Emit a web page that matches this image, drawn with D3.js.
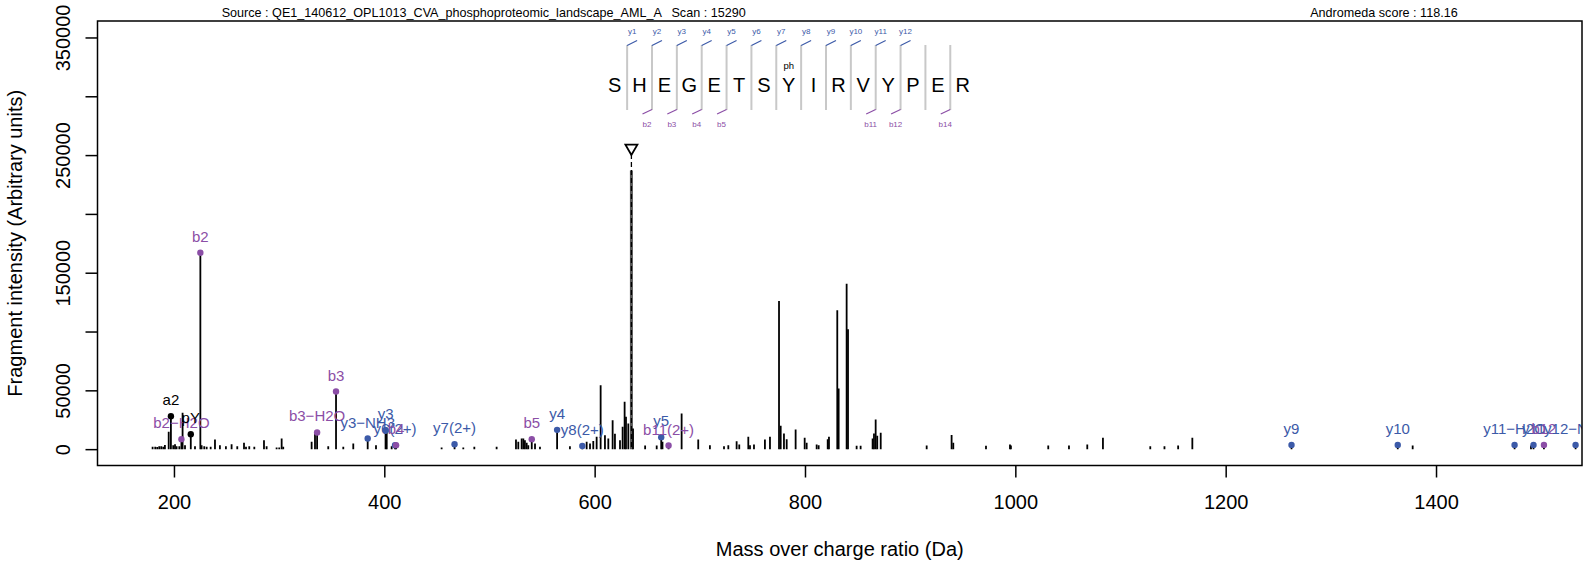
<!DOCTYPE html>
<html>
<head>
<meta charset="utf-8">
<script src="https://cdn.jsdelivr.net/npm/d3@7"></script>
<style>
  html, body { margin: 0; padding: 0; background: #fff; }
  svg { display: block; font-family: "Liberation Sans", Arial, Helvetica, sans-serif; }
</style>
</head>
<body>
<svg id="chart" width="1596" height="567"></svg>
<script>
// ---------------- data ----------------
const peakMz = [179.7,182.2,184.1,186.0,187.9,189.8,191.4,195.0,197.1,199.3,201.0,202.5,205.1,207.1,208.2,210.5,216.0,220.0,
  225.1,226.3,228.8,231.1,234.9,239.0,243.7,249.4,254.8,260.2,266.6,268.5,271.6,276.4,285.6,288.1,297.6,300.1,302.4,303.9,
  330.9,334.1,336.1,346.7,354.1,361.0,370.5,384.2,392.1,401.2,402.3,407.0,410.2,411.2,454.5,466.8,475.1,485.6,506.8,
  525.2,527.4,530.6,532.2,533.7,535.4,536.9,540.2,543.3,548.0,564.3,576.5,588.3,592.4,595.6,598.7,601.9,605.7,609.8,613.0,
  617.1,619.3,624.1,626.6,628.5,629.8,632.0,634.95,636.5,648.0,659.0,663.3,664.5,670.3,682.7,698.5,709.6,723.0,727.1,
  735.0,737.5,746.1,747.7,751.5,761.9,766.7,775.3,776.9,780.0,782.6,791.1,799.7,801.6,811.1,813.0,821.6,822.8,830.7,832.0,
  839.6,840.9,849.1,852.9,864.3,865.6,867.2,868.7,872.0,915.7,939.4,941.0,972.1,994.9,995.8,1031.3,1051.0,1068.4,1083.3,
  1128.3,1141.8,1154.8,1168.3,1262.6,1363.6,1377.8,1474.7,1490.3,1492.7,1502.6,1532.7];
const peakIntensity = [2000,2000,1800,2500,2500,2000,3500,14700,28000,3400,4200,2500,2500,8500,31000,3400,12700,2500,
  167000,3400,2500,2000,2000,8200,3400,2500,4200,2500,5400,2000,2500,2000,7600,2500,1500,1500,9000,2000,
  6200,13300,14200,2500,49000,2000,4800,9000,3400,16100,14000,2500,3400,3400,1500,4200,1500,2000,2000,
  8200,6200,9000,9000,7600,5400,3400,8500,4800,2000,16400,2500,2700,6200,4800,7000,10500,54300,11900,9000,
  24600,13000,7600,19000,40200,27500,21800,237000,17600,3000,3000,10200,6200,3100,30300,8200,3400,2500,3400,
  6800,4000,10500,3400,4000,8200,10500,126000,19800,13300,8500,16700,9600,5400,4000,3400,8500,10500,118000,51500,
  140600,102000,2800,2800,9000,13300,25200,11300,13900,3000,12000,5400,2800,4000,3000,3000,3000,4000,9600,
  2500,2500,3000,9600,3600,3600,3000,3600,3000,3600,3600,3600];

// annotated fragment ions
const ionLabel = ["a2","b2\u2212H2O","pY","b2","b3\u2212H2O","b3","y3\u2212NH3","y3","y6(2+)","b4","y7(2+)","b5","y4","y8(2+)","y5","b11(2+)","y9","y10","y11\u2212H2O","y11","b12","y12\u2212NH3"];
const ionMz = [197.1,207.1,216.0,225.1,336.1,354.1,384.2,401.2,410.2,411.2,466.8,540.2,564.3,588.3,663.3,670.3,1262.6,1363.6,1474.7,1492.7,1502.6,1532.7];
const ionIntensity = [28000,8500,12700,167000,14200,49000,9000,16100,3400,3400,4200,8500,16400,2700,10200,3100,3600,3600,3600,3600,3600,3600];
const ionType = ["other","b","other","b","b","b","y","y","y","b","y","b","y","y","y","b","y","y","y","y","b","y"];

const precursorMz = 634.95;
const precursorIntensity = 237000;

// peptide sequence map
const residues = ["S","H","E","G","E","T","S","Y","I","R","V","Y","P","E","R"];
const modifiedResidue = 7;       // index of phosphorylated residue
const modLabel = "ph";
const yIonsSeq = [1,2,3,4,5,6,7,8,9,10,11,12];
const bIonsSeq = [2,3,4,5,11,12,14];

// axes
const xTicks = [200,400,600,800,1000,1200,1400];
const yTicks = [0,50000,100000,150000,200000,250000,300000,350000];
const yTickLabelled = [0,50000,150000,250000,350000];

const titleSource = "Source : QE1_140612_OPL1013_CVA_phosphoproteomic_landscape_AML_A";
const titleScan = "Scan : 15290";
const titleScore = "Andromeda score : 118.16";
const xTitle = "Mass over charge ratio (Da)";
const yTitle = "Fragment intensity (Arbitrary units)";

// ---------------- drawing ----------------
const svg = d3.select("#chart");
const P = {left: 97.5, right: 1582, top: 21, bottom: 465.5};
const colB = "#8B4EA6", colY = "#3C5AA8";
const colorOf = t => t === "b" ? colB : (t === "y" ? colY : "#000");

const x = d3.scaleLinear().domain([127.3, 1538.8]).range([P.left, P.right]);
const y = d3.scaleLinear().domain([-13900, 364000]).range([P.bottom, P.top]);

svg.append("defs").append("clipPath").attr("id", "plotclip")
  .append("rect").attr("x", P.left).attr("y", P.top)
  .attr("width", P.right - P.left).attr("height", P.bottom - P.top);

// peaks
const plot = svg.append("g").attr("clip-path", "url(#plotclip)");
const peaks = peakMz.map((m, i) => ({m, v: peakIntensity[i]}));
plot.selectAll("line.peak").data(peaks).join("line")
  .attr("class", "peak")
  .attr("x1", d => x(d.m)).attr("x2", d => x(d.m))
  .attr("y1", y(0)).attr("y2", d => y(d.v))
  .attr("stroke", d => d.m === precursorMz ? "#555" : "#000")
  .attr("stroke-width", d => d.m === precursorMz ? 3 : 1.8);

// precursor marker
const triY = y(precursorIntensity * 1.08);
plot.append("line")
  .attr("x1", x(precursorMz)).attr("x2", x(precursorMz))
  .attr("y1", triY + 6).attr("y2", y(0))
  .attr("stroke", "#000").attr("stroke-width", 1.3).attr("stroke-dasharray", "5,3");
plot.append("path")
  .attr("d", d3.symbol(d3.symbolTriangle, 62)())
  .attr("transform", `translate(${x(precursorMz)},${triY}) rotate(180)`)
  .attr("fill", "none").attr("stroke", "#000").attr("stroke-width", 1.8);

// annotated ions
const ions = ionLabel.map((t, i) => ({t, m: ionMz[i], v: ionIntensity[i], c: colorOf(ionType[i])}));
plot.selectAll("circle.ion").data(ions).join("circle")
  .attr("class", "ion")
  .attr("cx", d => x(d.m)).attr("cy", d => y(d.v)).attr("r", 3.2)
  .attr("fill", d => d.c);
plot.selectAll("text.ion").data(ions).join("text")
  .attr("class", "ion")
  .attr("x", d => x(d.m)).attr("y", d => y(d.v) - 11)
  .attr("text-anchor", "middle").attr("font-size", 15)
  .attr("fill", d => d.c).text(d => d.t);

// box
svg.append("rect").attr("x", P.left).attr("y", P.top)
  .attr("width", P.right - P.left).attr("height", P.bottom - P.top)
  .attr("fill", "none").attr("stroke", "#000").attr("stroke-width", 1.5);

// x axis
const gx = svg.append("g").attr("transform", `translate(0,${P.bottom})`)
  .call(d3.axisBottom(x).tickValues(xTicks).tickSize(12).tickFormat(d3.format("d")));
gx.select(".domain").remove();
gx.selectAll(".tick line").attr("stroke", "#000").attr("stroke-width", 1.5);
gx.selectAll(".tick text").attr("y", 43.8).attr("dy", 0)
  .attr("font-size", 20).attr("fill", "#000").attr("font-family", null);

// y axis
const gy = svg.append("g").attr("transform", `translate(${P.left},0)`)
  .call(d3.axisLeft(y).tickValues(yTicks).tickSize(12)
    .tickFormat(d => yTickLabelled.includes(d) ? d3.format("d")(d) : ""));
gy.select(".domain").remove();
gy.selectAll(".tick line").attr("stroke", "#000").attr("stroke-width", 1.5);
gy.selectAll(".tick text").attr("x", 0).attr("dy", 0)
  .attr("transform", "translate(-27.8,0) rotate(-90)")
  .attr("text-anchor", "middle").attr("font-size", 20).attr("fill", "#000").attr("font-family", null);

// axis titles
svg.append("text").attr("x", (P.left + P.right) / 2).attr("y", 556)
  .attr("text-anchor", "middle").attr("font-size", 20).text(xTitle);
svg.append("text").attr("transform", `translate(21.7,${(P.top + P.bottom) / 2}) rotate(-90)`)
  .attr("text-anchor", "middle").attr("font-size", 20).text(yTitle);

// top titles
svg.append("text").attr("x", 221.7).attr("y", 16.7).attr("font-size", 12.6).text(titleSource);
svg.append("text").attr("x", 745.7).attr("y", 16.7).attr("text-anchor", "end").attr("font-size", 12.6).text(titleScan);
svg.append("text").attr("x", 1457.7).attr("y", 16.7).attr("text-anchor", "end").attr("font-size", 12.6).text(titleScore);

// sequence map
const sx = d3.scalePoint().domain(d3.range(residues.length)).range([614.7, 962.7]);
const step = sx.step();
const sep = k => sx(k - 1) + step / 2;   // separator after residue k (1-based)
const seqG = svg.append("g");
seqG.selectAll("line.sep").data(d3.range(1, residues.length)).join("line")
  .attr("class", "sep")
  .attr("x1", sep).attr("x2", sep).attr("y1", 45).attr("y2", 110)
  .attr("stroke", "#c8c8c8").attr("stroke-width", 2);
seqG.selectAll("text.res").data(residues).join("text")
  .attr("class", "res")
  .attr("x", (d, i) => sx(i)).attr("y", 91.7)
  .attr("text-anchor", "middle").attr("font-size", 20).text(d => d);
seqG.append("text").attr("x", sx(modifiedResidue)).attr("y", 69.3)
  .attr("text-anchor", "middle").attr("font-size", 9.5).text(modLabel);
seqG.selectAll("line.yion").data(yIonsSeq).join("line")
  .attr("class", "yion")
  .attr("x1", sep).attr("y1", 45.5).attr("x2", k => sep(k) + 10).attr("y2", 40.5)
  .attr("stroke", colY).attr("stroke-width", 1.2);
seqG.selectAll("text.yion").data(yIonsSeq).join("text")
  .attr("class", "yion")
  .attr("x", k => sep(k) + 5).attr("y", 33.5)
  .attr("text-anchor", "middle").attr("font-size", 8).attr("fill", colY).text(k => "y" + k);
seqG.selectAll("line.bion").data(bIonsSeq).join("line")
  .attr("class", "bion")
  .attr("x1", k => sep(k) - 9.5).attr("y1", 114).attr("x2", sep).attr("y2", 109.5)
  .attr("stroke", colB).attr("stroke-width", 1.2);
seqG.selectAll("text.bion").data(bIonsSeq).join("text")
  .attr("class", "bion")
  .attr("x", k => sep(k) - 5).attr("y", 127.3)
  .attr("text-anchor", "middle").attr("font-size", 8).attr("fill", colB).text(k => "b" + k);
</script>
</body>
</html>
